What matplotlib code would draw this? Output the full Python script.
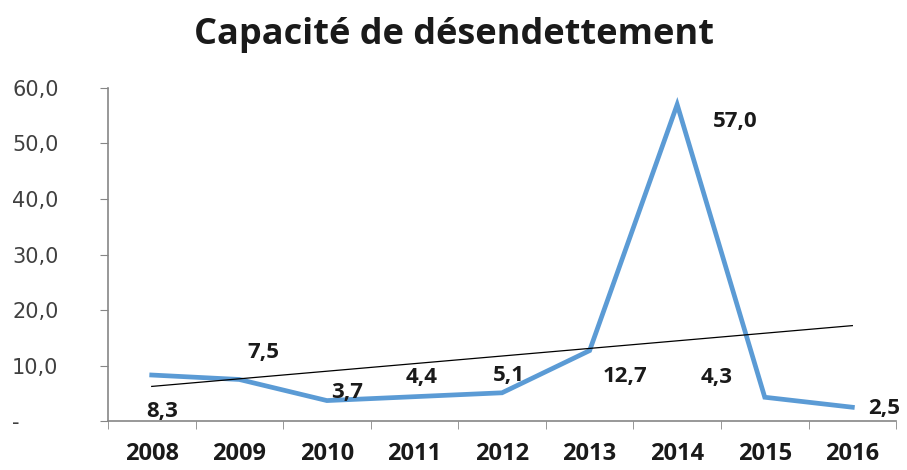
import numpy as np
import matplotlib.pyplot as plt
from matplotlib.ticker import FuncFormatter, FixedLocator

years = ['2008', '2009', '2010', '2011', '2012', '2013', '2014', '2015', '2016']
values = [8.3, 7.5, 3.7, 4.4, 5.1, 12.7, 57.0, 4.3, 2.5]
labels = ['8,3', '7,5', '3,7', '4,4', '5,1', '12,7', '57,0', '4,3', '2,5']

# label offsets in pixels (excel put them a bit everywhere)
label_offsets = [(10, -36), (24, 27), (20, 8), (7, 19), (7, 17),
                 (35, -26), (58, -17), (-48, 20), (32, -1)]

fig = plt.figure(figsize=(9.07, 4.70), dpi=100)
ax = fig.add_axes([0.119, 0.104, 0.869, 0.709])

x = np.arange(len(years))
ax.plot(x, values, color='#5B9BD5', linewidth=3.4, solid_joinstyle='miter', zorder=3)

# linear trend line
coef = np.polyfit(x, values, 1)
ax.plot(x, np.polyval(coef, x), color='black', linewidth=0.9, zorder=4)

for xi, v, lab, off in zip(x, values, labels, label_offsets):
    ax.annotate(lab, (xi, v), xytext=off, textcoords='offset pixels',
                ha='center', va='center', fontsize=16, fontweight='bold',
                family='Open Sans', color='#1a1a1a', zorder=5)

ax.set_xlim(-0.5, len(years) - 0.5)
ax.set_ylim(0, 60)
ax.set_yticks(np.arange(0, 61, 10))
ax.yaxis.set_major_formatter(FuncFormatter(
    lambda v, p: '-' if v == 0 else ('%.1f' % v).replace('.', ',')))

ax.set_xticks(x)
ax.set_xticklabels(years)
ax.xaxis.set_minor_locator(FixedLocator(np.arange(-0.5, len(years), 1)))
ax.tick_params(axis='x', which='major', length=0, pad=15)
ax.tick_params(axis='x', which='minor', length=6, color='#868686', direction='out')
ax.tick_params(axis='y', length=6, color='#868686', direction='out', pad=63)
for t in ax.get_xticklabels():
    t.set_fontweight('bold')
    t.set_fontsize(17)
    t.set_family('Open Sans')
    t.set_color('#1a1a1a')
for t in ax.get_yticklabels():
    t.set_fontsize(15)
    t.set_family('DejaVu Sans')
    t.set_color('#404040')
    t.set_horizontalalignment('left')

for s in ['top', 'right']:
    ax.spines[s].set_visible(False)
for s in ['left', 'bottom']:
    ax.spines[s].set_color('#868686')
    ax.spines[s].set_linewidth(1.2)

fig.text(0.5, 0.925, 'Capacité de désendettement', ha='center', va='center',
         fontsize=26, fontweight='bold', family='Open Sans', color='#1a1a1a')

fig.savefig('out.png', dpi=100)
